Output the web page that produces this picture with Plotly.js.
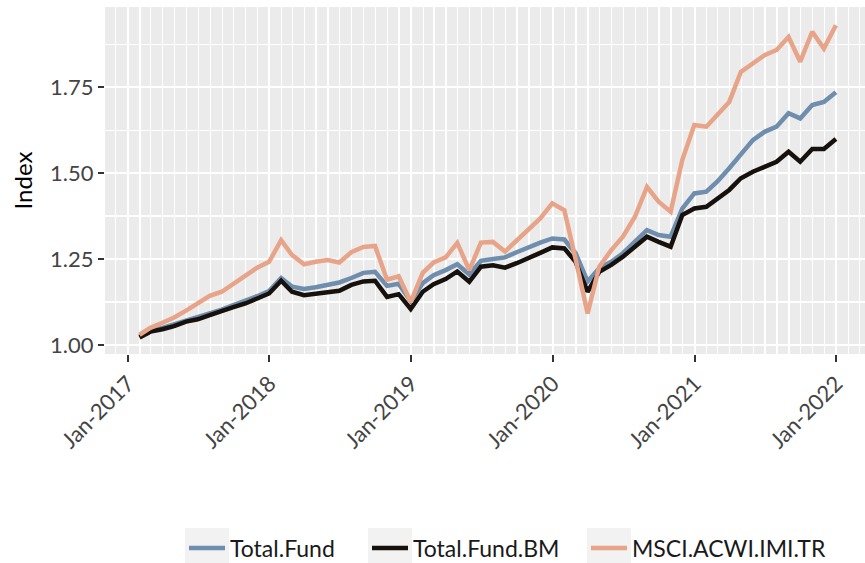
<!DOCTYPE html>
<html>
<head>
<meta charset="utf-8">
<script src="https://cdn.plot.ly/plotly-3.0.1.min.js"></script>
<style>html,body{margin:0;padding:0;background:#fff;}#chart{width:865px;height:563px;}</style>
</head>
<body>
<div id="chart"></div>
<script>
const dates = [
 "2017-01-31","2017-02-28","2017-03-31","2017-04-30","2017-05-31","2017-06-30","2017-07-31","2017-08-31","2017-09-30","2017-10-31","2017-11-30","2017-12-31",
 "2018-01-31","2018-02-28","2018-03-31","2018-04-30","2018-05-31","2018-06-30","2018-07-31","2018-08-31","2018-09-30","2018-10-31","2018-11-30","2018-12-31",
 "2019-01-31","2019-02-28","2019-03-31","2019-04-30","2019-05-31","2019-06-30","2019-07-31","2019-08-31","2019-09-30","2019-10-31","2019-11-30","2019-12-31",
 "2020-01-31","2020-02-29","2020-03-31","2020-04-30","2020-05-31","2020-06-30","2020-07-31","2020-08-31","2020-09-30","2020-10-31","2020-11-30","2020-12-31",
 "2021-01-31","2021-02-28","2021-03-31","2021-04-30","2021-05-31","2021-06-30","2021-07-31","2021-08-31","2021-09-30","2021-10-31","2021-11-30","2021-12-31"
];
const seriesNames = ["Total.Fund", "Total.Fund.BM", "MSCI.ACWI.IMI.TR"];
const totalFund = [1.025,1.043,1.05,1.06,1.073,1.08,1.093,1.103,1.116,1.128,1.142,1.157,
 1.195,1.17,1.163,1.168,1.176,1.182,1.195,1.21,1.213,1.172,1.178,1.128,
 1.18,1.203,1.218,1.235,1.205,1.245,1.25,1.255,1.27,1.285,1.298,1.31,
 1.307,1.267,1.185,1.223,1.242,1.267,1.30,1.334,1.32,1.315,1.397,1.441,
 1.446,1.475,1.514,1.552,1.596,1.62,1.635,1.674,1.659,1.698,1.707,1.735];
const totalFundBM = [1.022,1.039,1.046,1.055,1.068,1.075,1.087,1.097,1.11,1.121,1.136,1.15,
 1.187,1.155,1.145,1.15,1.155,1.158,1.175,1.185,1.187,1.14,1.148,1.105,
 1.155,1.177,1.192,1.214,1.184,1.228,1.232,1.225,1.238,1.255,1.268,1.284,
 1.281,1.242,1.155,1.213,1.233,1.257,1.286,1.315,1.30,1.286,1.378,1.397,
 1.402,1.426,1.451,1.485,1.504,1.518,1.533,1.562,1.533,1.570,1.570,1.599];
const msciAcwiImi = [1.03,1.05,1.065,1.08,1.10,1.12,1.143,1.155,1.178,1.20,1.225,1.242,
 1.305,1.262,1.235,1.242,1.247,1.24,1.27,1.285,1.288,1.19,1.20,1.125,
 1.21,1.24,1.255,1.297,1.218,1.298,1.30,1.272,1.305,1.339,1.368,1.412,
 1.392,1.25,1.092,1.228,1.276,1.315,1.373,1.46,1.417,1.388,1.538,1.64,
 1.635,1.669,1.707,1.794,1.819,1.843,1.858,1.896,1.824,1.911,1.862,1.930];
const yTicks = [1.00, 1.25, 1.50, 1.75];

const colors = ["#6F8DAD", "#17110D", "#E8A488"];
const values = [totalFund, totalFundBM, msciAcwiImi];
const legendIds = ["legend", "legend2", "legend3"];

const W = 865, H = 563;
const M = {l: 105, r: 0, t: 7, b: 209};
const PW = W - M.l - M.r, PH = H - M.t - M.b;
// legend entry left edges (px) and vertical centre (px)
const legendLeftPx = [184, 367, 586];
const legendMidPx = 548;

const traces = values.map((v, i) => ({
  x: dates, y: v, type: "scatter", mode: "lines", name: seriesNames[i],
  line: {color: colors[i], width: 4.5}, legend: legendIds[i]
}));

const FONT = "Lato, 'Open Sans', sans-serif";
function legendAt(px) {
  return {
    xref: "container", yref: "container",
    x: px / W, y: 1 - legendMidPx / H, orientation: "h", xanchor: "left", yanchor: "middle",
    font: {family: FONT, size: 23, color: "#1a1a1a"}, itemwidth: 36,
    bgcolor: "rgba(0,0,0,0)"
  };
}
// light grey legend-key backgrounds (ggplot style)
const keyShapes = legendLeftPx.map(px => ({
  type: "rect", xref: "paper", yref: "paper", layer: "above",
  x0: (px + 1 - M.l) / PW, x1: (px + 45 - M.l) / PW,
  y0: (M.t + PH - 528) / PH, y1: (M.t + PH - 563) / PH,
  fillcolor: "#F2F2F2", line: {width: 0}
}));

const layout = {
  width: W, height: H,
  margin: M,
  paper_bgcolor: "#ffffff", plot_bgcolor: "#EBEBEB",
  font: {family: FONT, color: "#444444"},
  xaxis: {
    type: "date", range: ["2016-11-03", "2022-03-16"], automargin: false,
    tick0: "2017-01-01", dtick: "M12", tickformat: "%b-%Y", tickangle: -45,
    ticks: "outside", ticklen: 7, tickwidth: 2, tickcolor: "#333333",
    tickfont: {family: FONT, size: 22, color: "#444444"},
    showgrid: true, gridcolor: "#ffffff", gridwidth: 2,
    minor: {tick0: "2017-01-01", dtick: "M1", showgrid: true, gridcolor: "#ffffff", gridwidth: 1.2, ticks: ""},
    zeroline: false, showline: false, fixedrange: true
  },
  yaxis: {
    range: [0.974, 1.983], tickvals: yTicks, tickformat: ".2f", automargin: false,
    ticks: "outside", ticklen: 6, tickwidth: 2, tickcolor: "#333333",
    tickfont: {family: FONT, size: 22, color: "#444444"},
    showgrid: true, gridcolor: "#ffffff", gridwidth: 2,
    minor: {tick0: 1.125, dtick: 0.25, showgrid: true, gridcolor: "#ffffff", gridwidth: 1.2, ticks: ""},
    title: {text: "Index", font: {family: FONT, size: 24, color: "#000000"}, standoff: 10},
    zeroline: false, showline: false, fixedrange: true
  },
  legend: legendAt(legendLeftPx[0]),
  legend2: legendAt(legendLeftPx[1]),
  legend3: legendAt(legendLeftPx[2]),
  shapes: keyShapes,
  showlegend: true
};

Plotly.newPlot("chart", traces, layout, {displayModeBar: false, staticPlot: true});
</script>
</body>
</html>
